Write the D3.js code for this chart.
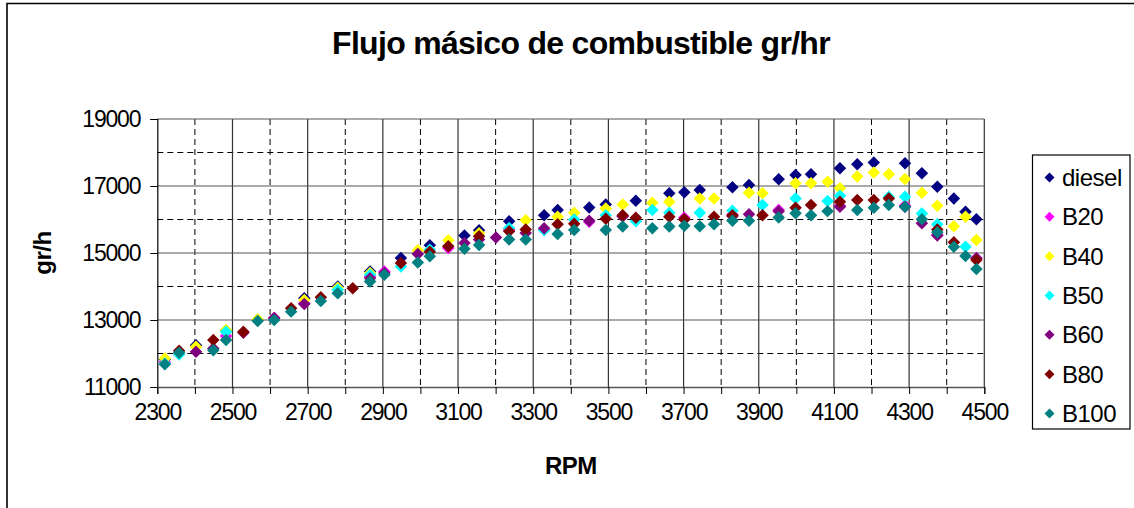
<!DOCTYPE html>
<html>
<head>
<meta charset="utf-8">
<script src="https://cdn.jsdelivr.net/npm/d3@7"></script>
<style>
  body { margin: 0; background: #fff; }
  svg { display: block; }
  text { font-family: Arial, "Liberation Sans", sans-serif; fill: #000; }
</style>
</head>
<body>
<svg id="chart" width="1134" height="508"></svg>
<script>
// Engine speed (RPM) at which fuel mass flow was measured
const rpm = [2320,2358,2403,2449,2483,2529,2567,2611,2656,2691,
             2735,2780,2820,2866,2904,2948,2993,3025,3074,3117,
             3156,3201,3236,3280,3329,3365,3409,3449,3493,3538,
             3573,3617,3662,3702,3743,3781,3830,3874,3910,3953,
             3998,4039,4083,4116,4162,4206,4246,4289,4334,4375,
             4419,4450,4479];
const _ = null; // no reading for this fuel at this speed

// Fuel mass flow (gr/h) for each fuel blend
const diesel = [11830,_,12250,_,12690,_,13010,_,_,13650,
                _,14000,_,14450,_,14850,_,15230,_,15520,
                15680,_,15950,_,16130,16280,_,16360,16450,_,
                16560,_,16780,16810,16880,_,16960,17030,_,17200,
                17330,17350,_,17530,17650,17700,_,17680,17380,16980,
                16630,16230,16010];
const b20 = [11750,_,_,_,12520,_,_,13060,_,13500,
             _,_,_,14300,14450,_,_,_,15150,_,
             _,_,15700,_,15700,_,_,15930,_,16100,
             _,_,_,16050,_,_,16150,_,_,16280,
             _,_,_,16400,_,_,_,16420,_,15550,
             _,_,14850];
const b40 = [11850,_,12200,_,12700,_,13020,_,_,13600,
             _,13960,_,14400,_,_,15080,_,15380,_,
             15590,_,_,15980,_,16080,16200,_,16330,16450,
             _,16500,16530,_,16630,16630,_,16800,16780,_,
             17080,17080,17130,16930,17280,17400,17350,17210,16800,16410,
             15800,16080,15390];
const b50 = [11700,11970,_,_,12650,_,_,_,_,_,
             _,13900,_,14350,_,14600,_,15100,_,_,
             _,_,15750,_,15680,_,16000,_,16130,_,
             15950,16280,16200,_,16200,_,16260,_,16430,_,
             16630,_,16550,16710,_,_,16680,16680,16180,15860,
             _,15190,_];
const b60 = [_,_,12050,12150,_,12620,_,13060,_,13480,
             _,_,_,14250,14400,_,14970,_,_,15300,
             15400,15460,_,15600,15740,_,_,15960,_,16100,
             _,_,_,16000,_,_,16100,16160,_,16250,
             _,_,_,16380,_,_,_,16380,15890,15520,
             _,_,14840];
const b80 = [_,12080,_,12400,_,12650,_,_,13350,_,
             13680,_,13950,_,_,14700,_,15040,15200,_,
             15500,_,15650,15700,_,15860,15870,_,16020,16130,
             16050,_,16080,16010,_,16080,16130,_,16130,_,
             16350,16430,_,16530,16580,16580,16630,_,_,15700,
             15320,_,14790];
const b100 = [11680,12020,_,12100,12400,_,12970,13000,13250,_,
              13570,13800,_,14150,14350,_,14720,14900,_,15130,
              15240,_,15400,15400,_,15570,15690,_,15690,15790,
              _,15740,15790,15810,15800,15860,15960,15960,_,16060,
              16190,16130,16250,_,16280,16350,16430,16380,16010,15620,
              15190,14910,14520];

const seriesNames  = ["diesel", "B20", "B40", "B50", "B60", "B80", "B100"];
const seriesValues = [diesel, b20, b40, b50, b60, b80, b100];
const seriesColors = ["#000080", "#FF00FF", "#FFFF00", "#00FFFF", "#800080", "#800000", "#008080"];

const xTickLabels = [2300, 2500, 2700, 2900, 3100, 3300, 3500, 3700, 3900, 4100, 4300, 4500];
const yTickLabels = [11000, 13000, 15000, 17000, 19000];

const titleText = "Flujo másico de combustible gr/hr";
const xTitle = "RPM";
const yTitle = "gr/h";

// ---- layout ----
const svg = d3.select("#chart");
const x = d3.scaleLinear().domain([2300, 4500]).range([157.3, 984.3]);
const y = d3.scaleLinear().domain([11000, 19000]).range([387, 119]);

// outer chart frame (left and top edges visible)
svg.append("path")
  .attr("d", "M7,520V3.5H1140")
  .attr("fill", "none").attr("stroke", "#000").attr("stroke-width", 1.6);

// title
svg.append("text")
  .attr("x", 581).attr("y", 54)
  .attr("text-anchor", "middle")
  .style("font-size", "32px").style("font-weight", "bold").style("letter-spacing", "-0.7px")
  .text(titleText);

const grid = svg.append("g");
const [x0, x1] = x.domain();
const [y0, y1] = y.domain();

// minor (dashed) gridlines
grid.selectAll(".vminor").data(d3.range(2400, 4500, 200)).join("line")
  .attr("x1", d => x(d)).attr("x2", d => x(d))
  .attr("y1", y(y1)).attr("y2", y(y0))
  .attr("stroke", "#000").attr("stroke-dasharray", "6,4").attr("stroke-width", 1);
grid.selectAll(".hminor").data(d3.range(12000, 19000, 2000)).join("line")
  .attr("x1", x(x0)).attr("x2", x(x1))
  .attr("y1", d => y(d)).attr("y2", d => y(d))
  .attr("stroke", "#000").attr("stroke-dasharray", "6,4").attr("stroke-width", 1);

// major (solid) gridlines
grid.selectAll(".vmajor").data(xTickLabels.slice(1)).join("line")
  .attr("x1", d => x(d)).attr("x2", d => x(d))
  .attr("y1", y(y1)).attr("y2", y(y0))
  .attr("stroke", "#333").attr("stroke-width", 1.2);
grid.selectAll(".hmajor").data(yTickLabels.slice(1)).join("line")
  .attr("x1", x(x0)).attr("x2", x(x1))
  .attr("y1", d => y(d)).attr("y2", d => y(d))
  .attr("stroke", "#555").attr("stroke-width", 1.2);

const tickFont = g => g.selectAll(".tick text")
  .style("font-size", "23px").style("letter-spacing", "-1.2px")
  .style("font-family", "Arial, 'Liberation Sans', sans-serif").attr("fill", "#000");

// y axis
const yAxis = d3.axisLeft(y).tickValues(yTickLabels).tickSize(7).tickPadding(10).tickFormat(d3.format("d"));
svg.append("g").attr("transform", `translate(${x(x0)},0)`).call(yAxis)
  .call(g => g.select(".domain").attr("stroke", "#000").attr("stroke-width", 1.2))
  .call(g => g.selectAll(".tick line").attr("stroke", "#000"))
  .call(tickFont);

// x axis: ticks every 100 RPM, labels every 200
const xAxis = d3.axisBottom(x).tickValues(d3.range(2300, 4501, 100)).tickSize(7).tickPadding(10)
  .tickFormat(d => xTickLabels.includes(d) ? d3.format("d")(d) : "");
svg.append("g").attr("transform", `translate(0,${y(y0)})`).call(xAxis)
  .call(g => g.select(".domain").attr("stroke", "#555").attr("stroke-width", 1.4))
  .call(g => g.selectAll(".tick line").attr("stroke", "#000"))
  .call(tickFont);

// axis titles
svg.append("text")
  .attr("x", (x(x0) + x(x1)) / 2).attr("y", 474)
  .attr("text-anchor", "middle")
  .style("font-size", "24px").style("font-weight", "bold").style("letter-spacing", "-0.5px")
  .text(xTitle);
svg.append("text")
  .attr("transform", `translate(51,${(y(y0) + y(y1)) / 2}) rotate(-90)`)
  .attr("text-anchor", "middle")
  .style("font-size", "24px").style("font-weight", "bold").style("letter-spacing", "-0.5px")
  .text(yTitle);

// diamond markers
const diamond = d3.symbol().type(d3.symbolSquare).size(78);
const plot = svg.append("g");
seriesValues.forEach((vals, i) => {
  const pts = rpm.map((r, j) => [r, vals[j]]).filter(p => p[1] !== null);
  plot.append("g").selectAll("path").data(pts).join("path")
    .attr("d", diamond)
    .attr("transform", d => `translate(${x(d[0])},${y(d[1])}) rotate(45)`)
    .attr("fill", seriesColors[i]);
});

// legend
const legend = svg.append("g");
legend.append("rect")
  .attr("x", 1032.5).attr("y", 155).attr("width", 97.5).attr("height", 274)
  .attr("fill", "#fff").attr("stroke", "#000").attr("stroke-width", 1.2);
const legendY = d3.scalePoint().domain(seriesNames).range([177.5, 413.5]);
const legendMarker = d3.symbol().type(d3.symbolSquare).size(50);
seriesNames.forEach((name, i) => {
  const g = legend.append("g").attr("transform", `translate(0,${legendY(name)})`);
  g.append("path").attr("d", legendMarker)
    .attr("transform", "translate(1049.5,0) rotate(45)")
    .attr("fill", seriesColors[i]);
  g.append("text").attr("x", 1062).attr("y", 8.5)
    .style("font-size", "24px").style("letter-spacing", "-0.5px")
    .text(name);
});
</script>
</body>
</html>
